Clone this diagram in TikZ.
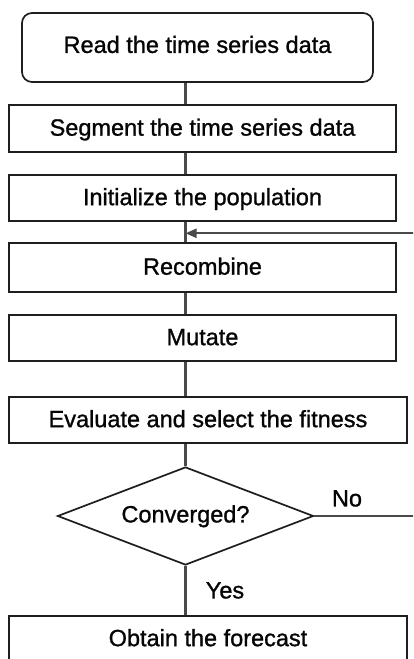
\documentclass[tikz,border=0pt]{standalone}
\usepackage{fontspec}
\setmainfont{Liberation Sans}
\usetikzlibrary{shapes.geometric,arrows.meta}
\definecolor{boxline}{HTML}{1E1E1E}
\definecolor{conline}{HTML}{4A4A4A}
\definecolor{txt}{HTML}{050505}
\begin{document}
\begin{tikzpicture}[x=1pt,y=-1pt,
  every node/.style={font=\fontsize{23.5}{28}\selectfont\addfontfeatures{FakeBold=1.1}, text=txt},
  stepbox/.style={draw=boxline, line width=1.7pt, rectangle, inner sep=0pt,
    text height=16.8pt, text depth=2.5pt, minimum height=46pt},
  decide/.style={draw=boxline, line width=1.7pt, diamond, aspect=2.612, inner sep=0pt,
    minimum width=256pt, minimum height=98pt, text height=16.8pt, text depth=4pt},
  conn/.style={draw=conline, line width=2.1pt},
  lbl/.style={inner sep=0pt, text height=16.8pt, text depth=0pt}]
\useasboundingbox (0,0) rectangle (413,659);
\begin{scope}
\clip (0,0) rectangle (413,659);
\fill[white] (0,0) rectangle (413,659);
\coordinate (sp) at (185.5,0);
\node[stepbox, rounded corners=10pt, minimum width=351pt, minimum height=69pt, text depth=6pt] (read) at (197.5,47.5) {Read the time series data};
\node[stepbox, minimum width=387pt, minimum height=47pt] (seg) at (202.5,128.5) {Segment the time series data};
\node[stepbox, minimum width=387pt] (init) at (202.5,198) {Initialize the population};
\node[stepbox, minimum width=387pt, minimum height=49pt] (rec) at (202.5,267.5) {Recombine};
\node[stepbox, minimum width=387pt] (mut) at (202.5,338) {Mutate};
\node[stepbox, minimum width=398pt] (eval) at (208,420) {Evaluate and select the fitness};
\node[decide] (conv) at (185.5,516) {Converged?};
\node[stepbox, minimum width=398pt] (fc) at (208,639) {Obtain the forecast};
\node[lbl] (no) at (347,498) {No};
\node[lbl] (yes) at (225,590) {Yes};
\coordinate (join) at (185.5,233.3);
\draw[conn] (read.south -| sp) -- (seg.north -| sp);
\draw[conn] (seg.south -| sp) -- (init.north -| sp);
\draw[conn] (init.south -| sp) -- (rec.north -| sp);
\draw[conn] (rec.south -| sp) -- (mut.north -| sp);
\draw[conn] (mut.south -| sp) -- (eval.north -| sp);
\draw[conn] (eval.south -| sp) -- (conv.north);
\draw[conn] (conv.south) -- (fc.north -| sp);
\draw[conn, -{Triangle[length=11pt,width=9pt]}] (conv.east) -- ++(115,0) |- (join);
\end{scope}
\end{tikzpicture}
\end{document}
